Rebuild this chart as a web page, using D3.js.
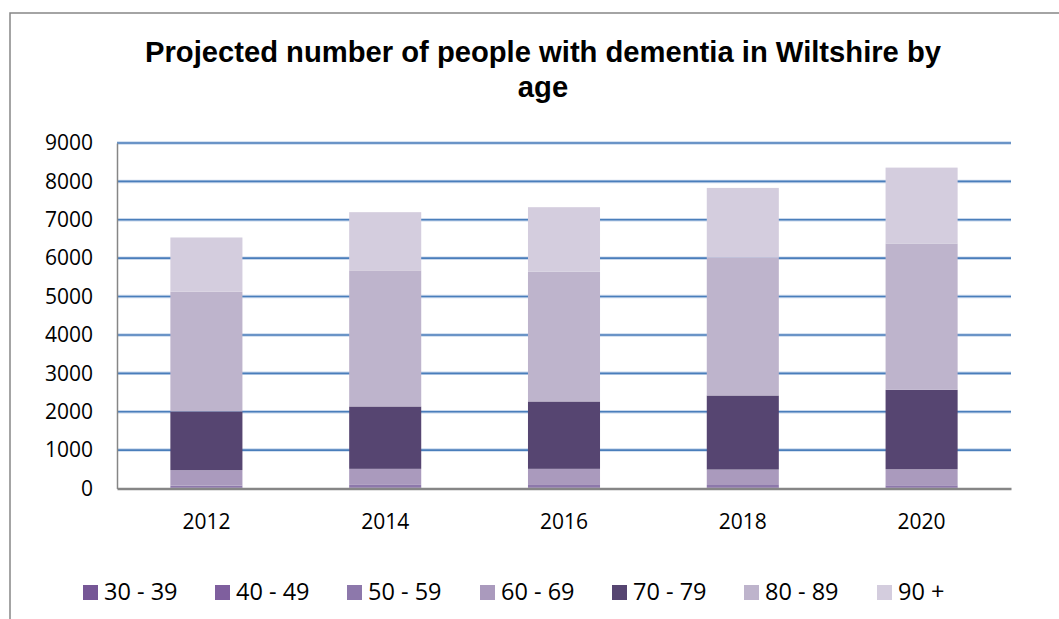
<!DOCTYPE html>
<html><head><meta charset="utf-8">
<script src="https://cdn.jsdelivr.net/npm/d3@7"></script>
<style>body{margin:0;background:#fff;} svg{display:block;}</style>
</head><body>
<svg id="c" width="1059" height="619"></svg>
<script>
const years = ["2012","2014","2016","2018","2020"];
const ageGroups = ["30 - 39","40 - 49","50 - 59","60 - 69","70 - 79","80 - 89","90 +"];
const age30_39 = [5,5,5,5,5];
const age40_49 = [15,17,17,16,16];
const age50_59 = [55,72,70,70,62];
const age60_69 = [405,418,420,403,419];
const age70_79 = [1527,1625,1755,1929,2068];
const age80_89 = [3119,3544,3379,3587,3813];
const age90_plus = [1413,1517,1682,1820,1976];
const yTicks = [0,1000,2000,3000,4000,5000,6000,7000,8000,9000];
const colors = ["#765796","#7f5f9e","#8d78ab","#aa9abd","#564571","#beb4cc","#d4cdde"];

const series = [age30_39,age40_49,age50_59,age60_69,age70_79,age80_89,age90_plus];
const rows = years.map((yr,i)=>{const o={year:yr}; ageGroups.forEach((g,k)=>o[g]=series[k][i]); return o;});
const stacked = d3.stack().keys(ageGroups)(rows);

const svg = d3.select("#c");
svg.append("rect").attr("x",10).attr("y",13).attr("width",1100).attr("height",700)
  .attr("fill","none").attr("stroke","#868686").attr("stroke-width",1.5);

svg.append("text").attr("x",543).attr("y",62).attr("text-anchor","middle")
  .attr("font-family","Liberation Sans, Arial, sans-serif").attr("font-weight","bold").attr("font-size",29.2)
  .text("Projected number of people with dementia in Wiltshire by");
svg.append("text").attr("x",543).attr("y",97).attr("text-anchor","middle")
  .attr("font-family","Liberation Sans, Arial, sans-serif").attr("font-weight","bold").attr("font-size",29.2)
  .text("age");

const pLeft=117, pRight=1011, pTop=143, pBottom=488.5;
const x = d3.scaleBand().domain(years).range([pLeft,pRight]).paddingInner(0.597).paddingOuter(0.2985);
const y = d3.scaleLinear().domain([0,9000]).range([pBottom,pTop]);

const g = svg.append("g");
g.selectAll("line.grid").data(yTicks.filter(d=>d>0)).enter().append("line")
  .attr("x1",pLeft).attr("x2",pRight).attr("y1",d=>y(d)).attr("y2",d=>y(d))
  .attr("stroke","#c9d8ec").attr("stroke-width",3.5);
g.selectAll("line.grid2").data(yTicks.filter(d=>d>0)).enter().append("line")
  .attr("x1",pLeft).attr("x2",pRight).attr("y1",d=>y(d)).attr("y2",d=>y(d))
  .attr("stroke","#4a7ebb").attr("stroke-width",1.6);

svg.append("g").selectAll("g").data(stacked).enter().append("g")
  .attr("fill",(d,i)=>colors[i])
  .selectAll("rect").data(d=>d).enter().append("rect")
  .attr("x",d=>x(d.data.year)).attr("width",x.bandwidth())
  .attr("y",d=>y(d[1])).attr("height",d=>y(d[0])-y(d[1]));

const yAxis = d3.axisLeft(y).tickValues(yTicks).tickSize(0).tickPadding(24).tickFormat(d3.format("d"));
const ya = svg.append("g").attr("transform",`translate(${pLeft},0)`).call(yAxis);
ya.select(".domain").attr("stroke","#868686").attr("stroke-width",1.5);
ya.selectAll("text").attr("font-family","Open Sans, sans-serif").attr("font-size",21).attr("fill","#000");

const xAxis = d3.axisBottom(x).tickSize(0).tickPadding(26);
const xa = svg.append("g").attr("transform",`translate(0,${pBottom})`).call(xAxis);
xa.select(".domain").attr("stroke","#868686").attr("stroke-width",2.5);
xa.selectAll("text").attr("font-family","Open Sans, sans-serif").attr("font-size",21).attr("fill","#000");

const lg = svg.append("g");
const lx = [83,215,347,480,612,744,877];
ageGroups.forEach((a,i)=>{
  lg.append("rect").attr("x",lx[i]).attr("y",585).attr("width",15).attr("height",15).attr("fill",colors[i]);
  lg.append("text").attr("x",lx[i]+21).attr("y",600).attr("font-family","Open Sans, sans-serif")
    .attr("font-size",23.5).attr("fill","#000").text(a);
});
</script>
</body></html>
